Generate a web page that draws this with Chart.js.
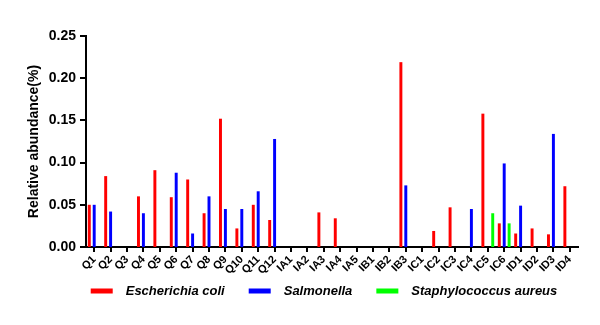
<!DOCTYPE html>
<html>
<head>
<meta charset="utf-8">
<script src="https://cdn.jsdelivr.net/npm/chart.js@4"></script>
<style>
  html, body { margin: 0; padding: 0; background: #fff; }
  #wrap { width: 600px; height: 325px; }
</style>
</head>
<body>
<div id="wrap"><canvas id="chart"></canvas></div>
<script>
const samples = ['Q1', 'Q2', 'Q3', 'Q4', 'Q5', 'Q6', 'Q7', 'Q8', 'Q9', 'Q10', 'Q11', 'Q12',
  'IA1', 'IA2', 'IA3', 'IA4', 'IA5', 'IB1', 'IB2', 'IB3',
  'IC1', 'IC2', 'IC3', 'IC4', 'IC5', 'IC6', 'ID1', 'ID2', 'ID3', 'ID4'];

const ecoli = [0.050, 0.084, 0, 0.060, 0.091, 0.059, 0.080, 0.040, 0.152, 0.022, 0.050, 0.032,
  0, 0, 0.041, 0.034, 0, 0, 0, 0.219,
  0, 0.019, 0.047, 0, 0.158, 0.028, 0.016, 0.022, 0.015, 0.072];

const salmonella = [0.050, 0.042, 0, 0.040, 0, 0.088, 0.016, 0.060, 0.045, 0.045, 0.066, 0.128,
  0, 0, 0, 0, 0, 0, 0, 0.073,
  0, 0, 0, 0.045, 0, 0.099, 0.049, 0, 0.134, 0];

const staph = [0, 0, 0, 0, 0, 0, 0, 0, 0, 0, 0, 0,
  0, 0, 0, 0, 0, 0, 0, 0,
  0, 0, 0, 0, 0.040, 0.028, 0, 0, 0, 0];

const yTicks = [0, 0.05, 0.10, 0.15, 0.20, 0.25];

const FONT = 'Arial, "Liberation Sans", sans-serif';

// short black tick marks outside both axes
const tickMarks = {
  id: 'tickMarks',
  afterDraw(chart) {
    const ctx = chart.ctx;
    const xs = chart.scales.x, ys = chart.scales.y;
    ctx.save();
    ctx.strokeStyle = '#000';
    ctx.lineWidth = 2;
    ctx.beginPath();
    xs.ticks.forEach((t, i) => {
      const px = Math.round(xs.getPixelForTick(i));
      ctx.moveTo(px, xs.top);
      ctx.lineTo(px, xs.top + 5);
    });
    ys.ticks.forEach(t => {
      const py = Math.round(ys.getPixelForValue(t.value));
      ctx.moveTo(ys.right - 6, py);
      ctx.lineTo(ys.right, py);
    });
    ctx.stroke();
    ctx.restore();
  }
};

// legend drawn under the axis, swatch + italic name
const bottomLegend = {
  id: 'bottomLegend',
  afterDraw(chart) {
    const ctx = chart.ctx;
    const area = chart.chartArea;
    const sw = 22, sh = 5, gap = 13, spacing = 24;
    ctx.save();
    ctx.font = 'italic bold 13px ' + FONT;
    const items = chart.data.datasets.map(ds => ({
      label: ds.label,
      color: ds.backgroundColor,
      w: sw + gap + ctx.measureText(ds.label).width
    }));
    const total = items.reduce((s, it) => s + it.w, 0) + spacing * (items.length - 1);
    let x = (area.left + area.right) / 2 - 8 - total / 2;
    const y = area.bottom + 44;
    ctx.textBaseline = 'middle';
    items.forEach(it => {
      ctx.fillStyle = it.color;
      ctx.fillRect(x, y - sh / 2, sw, sh);
      ctx.fillStyle = '#000';
      ctx.fillText(it.label, x + sw + gap, y);
      x += it.w + spacing;
    });
    ctx.restore();
  }
};

const ctx = document.getElementById('chart').getContext('2d');
new Chart(ctx, {
  type: 'bar',
  data: {
    labels: samples,
    datasets: [
      { label: 'Escherichia coli', data: ecoli, backgroundColor: '#ff0000' },
      { label: 'Salmonella', data: salmonella, backgroundColor: '#0000ff' },
      { label: 'Staphylococcus aureus', data: staph, backgroundColor: '#00ff00' }
    ]
  },
  options: {
    responsive: true,
    maintainAspectRatio: false,
    animation: false,
    categoryPercentage: 0.9,
    barPercentage: 0.6,
    layout: { padding: { left: 22, right: 22, top: 36, bottom: 48 } },
    plugins: {
      legend: { display: false },
      tooltip: { enabled: false }
    },
    scales: {
      x: {
        grid: { display: false, drawTicks: true, tickLength: 5 },
        border: { display: true, color: '#000', width: 2 },
        ticks: {
          autoSkip: false, minRotation: 45, maxRotation: 45, padding: 1,
          color: '#000', font: { family: FONT, size: 11, weight: 'bold' }
        },
        afterFit(scale) { scale.height = 30; }
      },
      y: {
        min: 0,
        max: 0.25,
        afterBuildTicks(scale) { scale.ticks = yTicks.map(v => ({ value: v })); },
        grid: { display: false, drawTicks: true, tickLength: 6 },
        border: { display: true, color: '#000', width: 2 },
        ticks: {
          padding: 4, color: '#000',
          font: { family: FONT, size: 14, weight: 'bold' },
          callback: v => v.toFixed(2)
        },
        title: {
          display: true, text: 'Relative abundance(%)', color: '#000',
          font: { family: FONT, size: 14, weight: 'bold' }
        },
        afterFit(scale) { scale.width = 64; }
      }
    }
  },
  plugins: [tickMarks, bottomLegend]
});
</script>
</body>
</html>
